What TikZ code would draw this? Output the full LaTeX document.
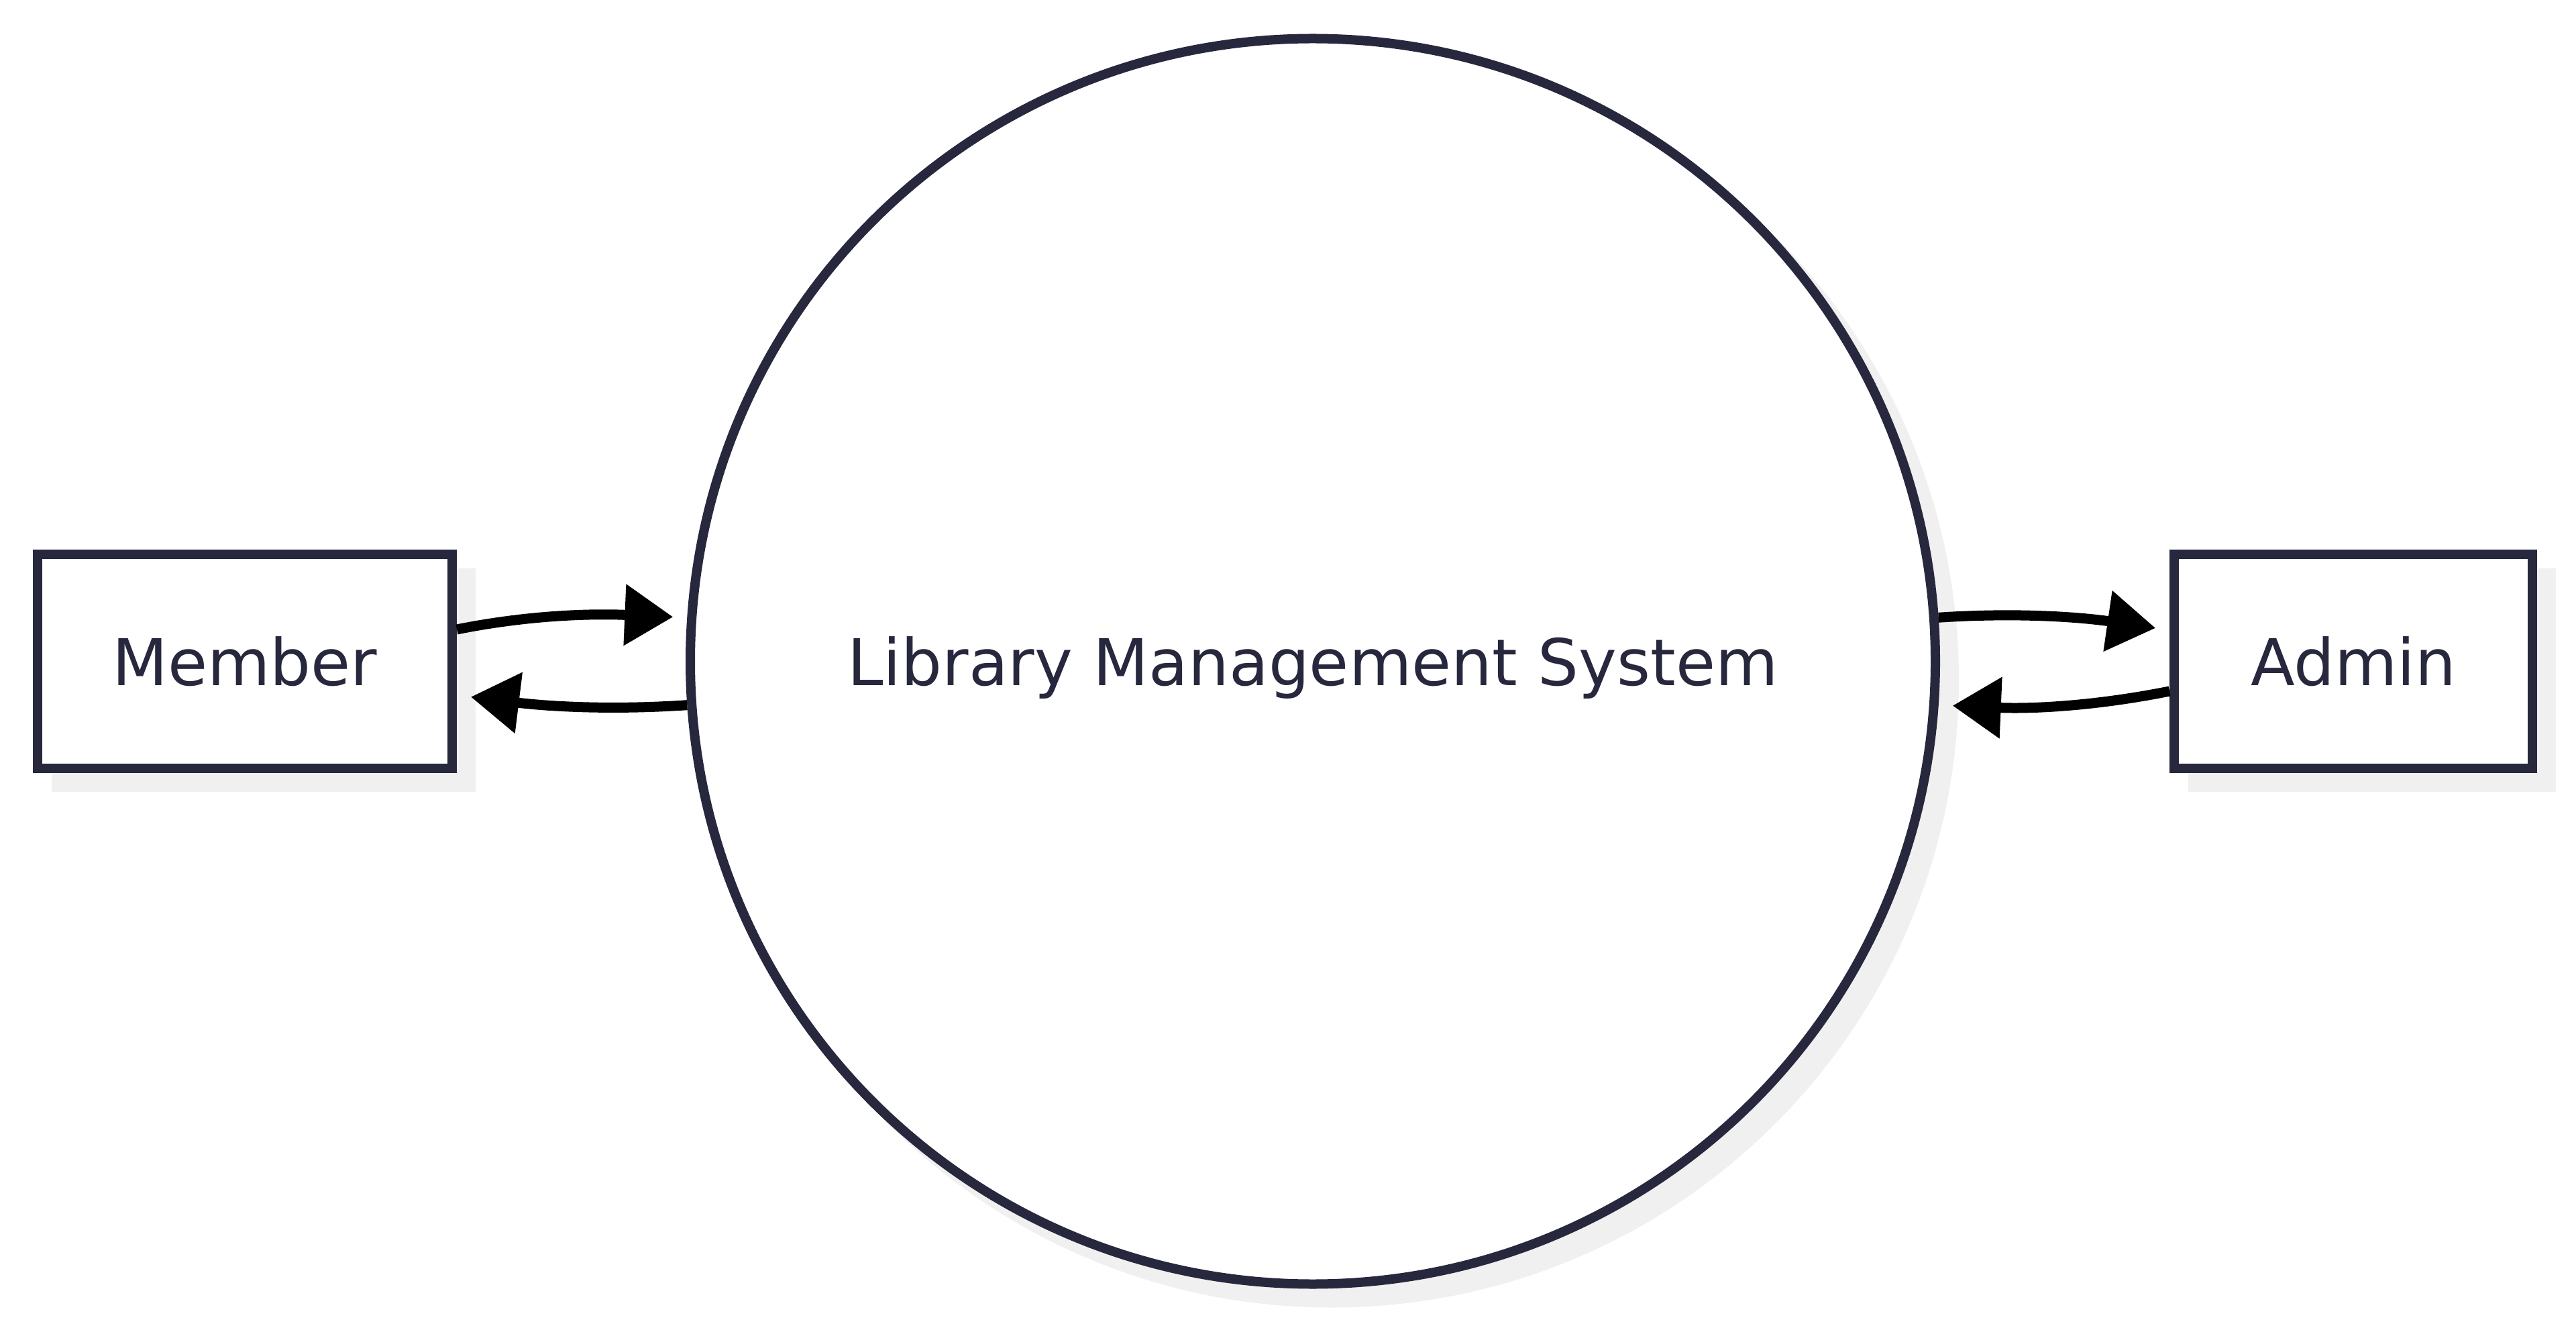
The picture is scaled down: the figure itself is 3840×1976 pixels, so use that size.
\documentclass[tikz,border=0pt]{standalone}
\usepackage{fontspec}
\setmainfont{DejaVu Sans}
\usetikzlibrary{arrows.meta,backgrounds}
\definecolor{navy}{RGB}{39,39,61}
\definecolor{shadowgray}{RGB}{240,240,240}

\begin{document}
\begin{tikzpicture}[x=0.25pt,y=-0.25pt,
    entity/.style={draw=navy,line width=3.5pt,fill=white,text=navy,minimum height=79.75pt,text depth=0pt,font=\fontsize{24}{28}\selectfont},
    process/.style={circle,draw=navy,line width=3.5pt,fill=white,text=navy,minimum size=464pt,inner sep=0pt,text depth=0pt,font=\fontsize{24}{28}\selectfont},
    flow/.style={line width=3.75pt,shorten >=5.25pt,-{Triangle[length=18pt,width=22pt]}}]
    \useasboundingbox (0,0) rectangle (3840,1976);

    % Define the system and the two entities
    \node[process] (lms) at (1957,985.5) {Library Management System};
    \node[entity,minimum width=154.5pt] (member) at (365,985.5) {Member};
    \node[entity,minimum width=133.5pt] (admin) at (3508,985.5) {Admin};

    % Draw shadows behind the shapes
    \begin{scope}[on background layer]
        \fill[shadowgray] ([shift={(28,28)}]member.north west) rectangle ([shift={(28,28)}]member.south east);
        \fill[shadowgray] ([shift={(28,28)}]admin.north west) rectangle ([shift={(28,28)}]admin.south east);
        \fill[shadowgray] ([shift={(28,28)}]lms.center) circle [radius=233.75pt];
    \end{scope}

    % Draw data flows
    \draw[flow] ([shift={(0,-47.5)}]member.east) .. controls +(110,-22) and +(-140,-6) .. (lms.176);
    \draw[flow] (lms.184) .. controls +(-120,8) and +(130,16) .. ([shift={(0,50.5)}]member.east);
    \draw[flow] (lms.4) .. controls +(120,-8) and +(-130,-19) .. ([shift={(0,-46.5)}]admin.west);
    \draw[flow] ([shift={(0,44.5)}]admin.west) .. controls +(-110,22) and +(140,6) .. (lms.-4);
\end{tikzpicture}
\end{document}
